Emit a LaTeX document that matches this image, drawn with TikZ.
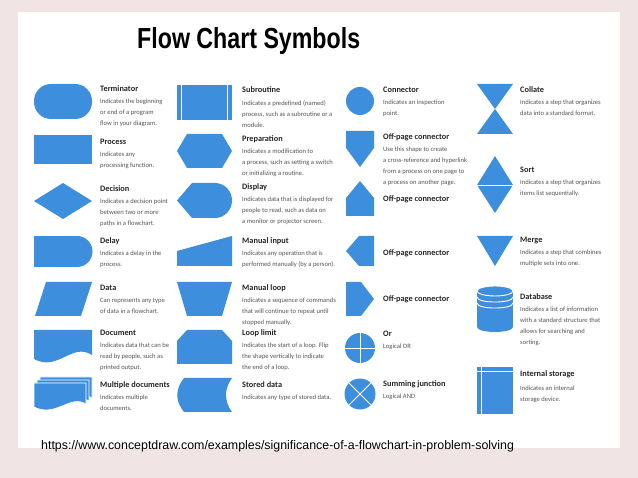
\documentclass[tikz,border=0pt]{standalone}
\usepackage{fontspec}
\setmainfont{Carlito}
\newfontfamily\headfont[FakeStretch=0.8]{Liberation Sans}
\newfontfamily\linkfont{Liberation Sans}
\usetikzlibrary{positioning}
\definecolor{symblue}{RGB}{62,142,222}
\definecolor{bgpink}{RGB}{241,228,229}
\definecolor{labelgrey}{RGB}{85,85,85}

\begin{document}
\begin{tikzpicture}[x=1pt, y=-1pt,
    sym/.style={fill=symblue},
    cut/.style={draw=white, line width=0.9pt},
    ttl/.style={anchor=base west, inner sep=0, text=black!85,
      font=\bfseries\fontsize{8.3}{10}\selectfont},
    dsc/.style={inner sep=0, align=left, text=labelgrey,
      font=\fontsize{6.6}{11}\selectfont}]

  % page and white sheet
  \fill[bgpink] (0,0) rectangle (638,478);
  \fill[white] (18,12) rectangle (620,448);
  \useasboundingbox (0,0) rectangle (638,478);

  \node[anchor=base west, inner sep=0,
    font=\headfont\bfseries\fontsize{29}{30}\selectfont] (heading) at (137,49) {Flow Chart Symbols};

  % first column
  \fill[sym, rounded corners=17pt] (34,84) rectangle (92,119);
  \fill[sym] (34,135) rectangle (92,164);
  \fill[sym] (34,201) -- (63,183) -- (92,201) -- (63,219) -- cycle;
  \fill[sym] (34,236) rectangle (77,267);
  \fill[sym] (77,251.5) circle[radius=15.5];
  \fill[sym] (46,282) -- (92,282) -- (81,316) -- (35,316) -- cycle;
  \fill[sym] (34,330) -- (92,330) -- (92,355) .. controls (72,342) and (58,372) .. (34,359) -- cycle;
  \foreach \o in {6,3,0}
    \fill[sym, draw=white, line width=0.6pt, shift={(\o,-\o)}]
      (34,383) -- (86,383) -- (86,404) .. controls (70,394) and (56,418) .. (34,407) -- cycle;

  \node[ttl] (term) at (100,92) {Terminator};
  \node[dsc] (term-d) [below right=7pt and 0pt of term.base west]
    {Indicates the beginning\\or end of a program\\flow in your diagram.};
  \node[ttl] (proc) at (100,145) {Process};
  \node[dsc] (proc-d) [below right=7pt and 0pt of proc.base west]
    {Indicates any\\processing function.};
  \node[ttl] (dec) at (100,192) {Decision};
  \node[dsc] (dec-d) [below right=7pt and 0pt of dec.base west]
    {Indicates a decision point\\between two or more\\paths in a flowchart.};
  \node[ttl] (delay) at (100,244) {Delay};
  \node[dsc] (delay-d) [below right=7pt and 0pt of delay.base west]
    {Indicates a delay in the\\process.};
  \node[ttl] (data) at (100,291) {Data};
  \node[dsc] (data-d) [below right=7pt and 0pt of data.base west]
    {Can represents any type\\of data in a flowchart.};
  \node[ttl] (doc) at (100,336) {Document};
  \node[dsc] (doc-d) [below right=7pt and 0pt of doc.base west]
    {Indicates data that can be\\read by people, such as\\printed output.};
  \node[ttl] (mdoc) at (100,388) {Multiple documents};
  \node[dsc] (mdoc-d) [below right=7pt and 0pt of mdoc.base west]
    {Indicates multiple\\documents.};

  % second column
  \fill[sym] (177,85) rectangle (232,120);
  \draw[cut] (181.5,85) -- (181.5,120) (227.5,85) -- (227.5,120);
  \fill[sym] (177,151) -- (187,134) -- (222,134) -- (232,151) -- (222,168) -- (187,168) -- cycle;
  \fill[sym] (177,200.5) -- (192,183) -- (215,183) -- (215,218) -- (192,218) -- cycle;
  \fill[sym] (215,200.5) ellipse[x radius=17, y radius=17.5];
  \fill[sym] (177,251) -- (232,236) -- (232,266) -- (177,266) -- cycle;
  \fill[sym] (177,282) -- (232,282) -- (222,316) -- (187,316) -- cycle;
  \fill[sym] (177,364) -- (177,341) -- (187,330) -- (222,330) -- (232,341) -- (232,364) -- cycle;
  \fill[sym] (184,378) -- (232,378) .. controls (224,389) and (224,401) .. (232,412)
    -- (184,412) .. controls (175,401) and (175,389) .. (184,378) -- cycle;

  \node[ttl] (sub) at (242,93) {Subroutine};
  \node[dsc] (sub-d) [below right=7pt and 0pt of sub.base west]
    {Indicates a predefined (named)\\process, such as a subroutine or a\\module.};
  \node[ttl] (prep) at (242,142) {Preparation};
  \node[dsc] (prep-d) [below right=7pt and 0pt of prep.base west]
    {Indicates a modification to\\a process, such as setting a switch\\or initializing a routine.};
  \node[ttl] (disp) at (242,190) {Display};
  \node[dsc] (disp-d) [below right=7pt and 0pt of disp.base west]
    {Indicates data that is displayed for\\people to read, such as data on\\a monitor or projector screen.};
  \node[ttl] (minput) at (242,244) {Manual input};
  \node[dsc] (minput-d) [below right=7pt and 0pt of minput.base west]
    {Indicates any operation that is\\performed manually (by a person).};
  \node[ttl] (mloop) at (242,291) {Manual loop};
  \node[dsc] (mloop-d) [below right=7pt and 0pt of mloop.base west]
    {Indicates a sequence of commands\\that will continue to repeat until\\stopped manually.};
  \node[ttl] (llimit) at (242,336) {Loop limit};
  \node[dsc] (llimit-d) [below right=7pt and 0pt of llimit.base west]
    {Indicates the start of a loop. Flip\\the shape vertically to indicate\\the end of a loop.};
  \node[ttl] (stored) at (242,388) {Stored data};
  \node[dsc] (stored-d) [below right=7pt and 0pt of stored.base west]
    {Indicates any type of stored data.};

  % third column
  \fill[sym] (360,101) circle[radius=14];
  \fill[sym] (346,131) -- (374,131) -- (374,148) -- (360,167) -- (346,148) -- cycle;
  \fill[sym] (360,181) -- (374,198) -- (374,216) -- (346,216) -- (346,198) -- cycle;
  \fill[sym] (346,251) -- (359,236) -- (374,236) -- (374,266) -- (359,266) -- cycle;
  \fill[sym] (346,282) -- (361,282) -- (374,299) -- (361,316) -- (346,316) -- cycle;
  \fill[sym] (360,348) circle[radius=15];
  \draw[cut] (345,348) -- (375,348) (360,333) -- (360,363);
  \fill[sym] (360,394) circle[radius=15.5];
  \draw[cut] (349,383) -- (371,405) (349,405) -- (371,383);

  \node[ttl] (conn) at (383,93) {Connector};
  \node[dsc] (conn-d) [below right=7pt and 0pt of conn.base west]
    {Indicates an inspection\\point.};
  \node[ttl] (offa) at (383,140) {Off-page connector};
  \node[dsc] (offa-d) [below right=7pt and 0pt of offa.base west]
    {Use this shape to create\\a cross-reference and hyperlink\\from a process on one page to\\a process on another page.};
  \node[ttl] (offb) at (383,202) {Off-page connector};
  \node[ttl] (offc) at (383,256) {Off-page connector};
  \node[ttl] (offd) at (383,302) {Off-page connector};
  \node[ttl] (or) at (383,337) {Or};
  \node[dsc] (or-d) [below right=7pt and 0pt of or.base west] {Logical OR};
  \node[ttl] (sum) at (383,387) {Summing junction};
  \node[dsc] (sum-d) [below right=7pt and 0pt of sum.base west] {Logical AND};

  % fourth column
  \fill[sym] (477,84) -- (513,84) -- (495,109) -- cycle;
  \fill[sym] (495,109) -- (513,134) -- (477,134) -- cycle;
  \fill[sym] (495,156) -- (513,185) -- (495,213) -- (477,185) -- cycle;
  \draw[cut] (477,185) -- (513,185);
  \fill[sym] (477,236) -- (513,236) -- (495,266) -- cycle;
  \fill[sym] (477,291) rectangle (513,327);
  \fill[sym] (495,291) ellipse[x radius=18, y radius=5];
  \fill[sym] (495,327) ellipse[x radius=18, y radius=5];
  \draw[cut] (495,291) ellipse[x radius=18, y radius=5]
    (477,297) .. controls (477,303.7) and (513,303.7) .. (513,297)
    (477,303) .. controls (477,309.7) and (513,309.7) .. (513,303);
  \fill[sym] (477,367) rectangle (513,414);
  \draw[cut] (481,367) -- (481,414) (477,371) -- (513,371);

  \node[ttl] (coll) at (520,93) {Collate};
  \node[dsc] (coll-d) [below right=7pt and 0pt of coll.base west]
    {Indicates a step that organizes\\data into a standard format.};
  \node[ttl] (sort) at (520,173) {Sort};
  \node[dsc] (sort-d) [below right=7pt and 0pt of sort.base west]
    {Indicates a step that organizes\\items list sequentially.};
  \node[ttl] (merge) at (520,243) {Merge};
  \node[dsc] (merge-d) [below right=7pt and 0pt of merge.base west]
    {Indicates a step that combines\\multiple sets into one.};
  \node[ttl] (db) at (520,300) {Database};
  \node[dsc] (db-d) [below right=7pt and 0pt of db.base west]
    {Indicates a list of information\\with a standard structure that\\allows for searching and\\sorting.};
  \node[ttl] (istor) at (520,377) {Internal storage};
  \node[dsc] (istor-d) [below right=9pt and 0pt of istor.base west]
    {Indicates an internal\\storage device.};

  \node[anchor=base west, inner sep=0, font=\linkfont\fontsize{12.4}{14}\selectfont] (link) at (41,450)
    {https://www.conceptdraw.com/examples/significance-of-a-flowchart-in-problem-solving};
\end{tikzpicture}
\end{document}
